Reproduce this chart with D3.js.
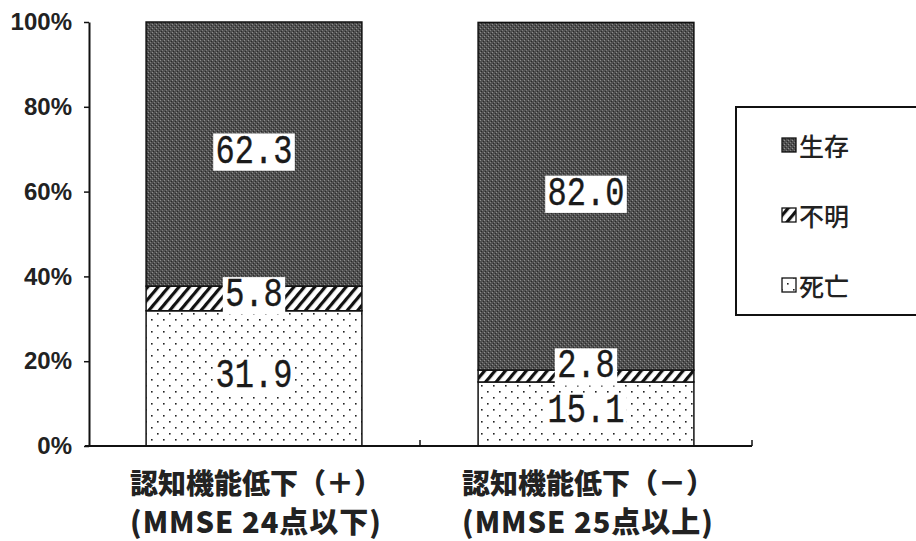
<!DOCTYPE html>
<html>
<head>
<meta charset="utf-8">
<script src="https://cdnjs.cloudflare.com/ajax/libs/d3/7.8.5/d3.min.js"></script>
<style>
  html, body { margin: 0; padding: 0; background: #fff; }
  svg { display: block; }
</style>
</head>
<body>
<svg id="chart" width="916" height="541"></svg>
<script>
// Categories (two lines each) and stacked percentages
const categories = ["認知機能低下（＋）", "認知機能低下（－）"];
const subLabels = ["(MMSE 24点以下)", "(MMSE 25点以上)"];
const seriesNames = ["死亡", "不明", "生存"];           // bottom to top
const deathValues = [31.9, 15.1];
const unknownValues = [5.8, 2.8];
const aliveValues = [62.3, 82.0];
const yTicks = [0, 20, 40, 60, 80, 100];

const rows = categories.map((c, i) => ({
  cat: c,
  "死亡": deathValues[i],
  "不明": unknownValues[i],
  "生存": aliveValues[i]
}));

const svg = d3.select("#chart");
const defs = svg.append("defs");

// Dark speckled fill
const pDark = defs.append("pattern").attr("id", "pat-alive")
  .attr("patternUnits", "userSpaceOnUse").attr("width", 4).attr("height", 4);
pDark.append("rect").attr("width", 4).attr("height", 4).attr("fill", "#505050");
pDark.append("rect").attr("x", 0).attr("y", 0).attr("width", 1).attr("height", 1).attr("fill", "#8e8e8e");
pDark.append("rect").attr("x", 2).attr("y", 2).attr("width", 1).attr("height", 1).attr("fill", "#7e7e7e");
pDark.append("rect").attr("x", 1).attr("y", 3).attr("width", 1).attr("height", 1).attr("fill", "#2a2a2a");
pDark.append("rect").attr("x", 3).attr("y", 1).attr("width", 1).attr("height", 1).attr("fill", "#2a2a2a");

// Diagonal hatch
const pHatch = defs.append("pattern").attr("id", "pat-unknown")
  .attr("patternUnits", "userSpaceOnUse").attr("width", 8).attr("height", 8)
  .attr("patternTransform", "rotate(40)");
pHatch.append("rect").attr("width", 8).attr("height", 8).attr("fill", "#fff");
pHatch.append("rect").attr("x", 0).attr("y", 0).attr("width", 3.2).attr("height", 8).attr("fill", "#111");

// Sparse dots
const pDots = defs.append("pattern").attr("id", "pat-death")
  .attr("patternUnits", "userSpaceOnUse").attr("width", 12).attr("height", 12);
pDots.append("rect").attr("width", 12).attr("height", 12).attr("fill", "#fff");
pDots.append("rect").attr("x", 1).attr("y", 1).attr("width", 1.6).attr("height", 1.6).attr("fill", "#222");
pDots.append("rect").attr("x", 7).attr("y", 7).attr("width", 1.6).attr("height", 1.6).attr("fill", "#222");

const fills = { "死亡": "url(#pat-death)", "不明": "url(#pat-unknown)", "生存": "url(#pat-alive)" };

const x = d3.scaleBand().domain(categories).range([88, 752])
  .paddingInner(0.35).paddingOuter(0.175);
const y = d3.scaleLinear().domain([0, 100]).range([446, 22]);

const stack = d3.stack().keys(seriesNames);
const layers = stack(rows);

// Bars
const g = svg.append("g");
layers.forEach(layer => {
  g.selectAll(null).data(layer).enter().append("rect")
    .attr("x", d => x(d.data.cat))
    .attr("y", d => y(d[1]))
    .attr("width", x.bandwidth())
    .attr("height", d => y(d[0]) - y(d[1]))
    .attr("fill", fills[layer.key])
    .attr("stroke", "#111")
    .attr("stroke-width", 1.5);
});

// Y axis
const yAxis = d3.axisLeft(y).tickValues(yTicks).tickFormat(d => d + "%").tickSize(5).tickSizeOuter(0);
const yg = svg.append("g").attr("transform", "translate(89,0)").call(yAxis);
yg.attr("font-size", null).attr("font-family", null);
yg.select(".domain").attr("stroke", "#111").attr("stroke-width", 2);
yg.selectAll(".tick line").attr("stroke", "#111").attr("stroke-width", 1.5);
yg.selectAll(".tick text")
  .attr("x", -17)
  .style("font-family", "'Liberation Sans', Arial, sans-serif")
  .style("font-weight", "bold")
  .style("font-size", "24px")
  .attr("fill", "#222");

// X axis baseline with ticks at band boundaries pointing up
const boundaries = [x.range()[0], ...categories.map((c, i) => x(c) + x.bandwidth() + x.step() * x.paddingInner() / 2)];
boundaries[boundaries.length - 1] = x.range()[1];
svg.append("line").attr("x1", 85).attr("x2", x.range()[1]).attr("y1", y(0)).attr("y2", y(0))
  .attr("stroke", "#111").attr("stroke-width", 2);
svg.selectAll(".xtick").data(boundaries.slice(1)).enter().append("line")
  .attr("x1", d => d).attr("x2", d => d).attr("y1", y(0)).attr("y2", y(0) - 6)
  .attr("stroke", "#111").attr("stroke-width", 1.5);

// Category labels
const catText = svg.append("g").attr("font-family", "'Noto Sans CJK JP', sans-serif")
  .attr("font-weight", "900").attr("font-size", 28).attr("fill", "#222").attr("text-anchor", "middle");
categories.forEach((c, i) => {
  const cx = x(c) + x.bandwidth() / 2 + 2;
  catText.append("text").attr("x", cx).attr("y", 494).text(c);
  catText.append("text").attr("x", cx).attr("y", 533)
    .attr("font-size", 29).attr("letter-spacing", 1).text(subLabels[i]);
});

// Value labels on white boxes; thin hatched segments get their label lifted
const lbl = svg.append("g");
layers.forEach(layer => {
  layer.forEach(d => {
    const v = d[1] - d[0];
    const cx = x(d.data.cat) + x.bandwidth() / 2;
    const cy = layer.key === "不明" ? y(d[0]) - 15 : y((d[0] + d[1]) / 2) - 2;
    const grp = lbl.append("g").attr("transform", `translate(${cx},${cy}) scale(0.8,1)`);
    const box = grp.append("rect").attr("fill", "#fff");
    const t = grp.append("text")
      .attr("text-anchor", "middle")
      .attr("dominant-baseline", "central")
      .attr("font-family", "'Liberation Mono', 'DejaVu Sans Mono', monospace")
      .attr("font-size", 40)
      .attr("fill", "#1a1a1a")
      .attr("stroke", "#1a1a1a").attr("stroke-width", 0.4)
      .text(v.toFixed(1));
    const bb = t.node().getBBox();
    box.attr("x", bb.x - 3).attr("y", bb.y + 4).attr("width", bb.width + 6).attr("height", bb.height - 8);
  });
});

// Legend
const legend = svg.append("g");
legend.append("path").attr("d", "M918,107 H736 V315 H918")
  .attr("fill", "#fff").attr("stroke", "#111").attr("stroke-width", 2);
const legendOrder = ["生存", "不明", "死亡"];
const ly = d3.scalePoint().domain(legendOrder).range([145, 285]);
legendOrder.forEach(k => {
  legend.append("rect").attr("x", 782).attr("y", ly(k) - 7).attr("width", 14).attr("height", 14)
    .attr("fill", fills[k]).attr("stroke", "#111").attr("stroke-width", 1.3);
  legend.append("text").attr("x", 799).attr("y", ly(k))
    .attr("dominant-baseline", "central")
    .attr("font-family", "'Noto Sans CJK JP', sans-serif")
    .attr("font-weight", 500)
    .attr("font-size", 25).attr("fill", "#222").text(k);
});
</script>
</body>
</html>
